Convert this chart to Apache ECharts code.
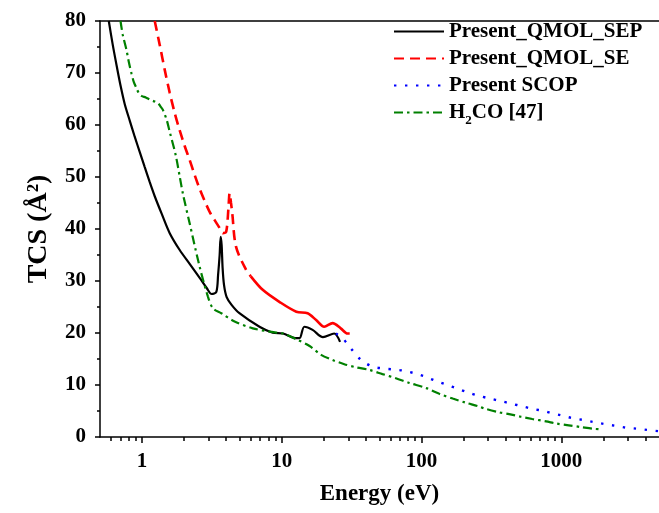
<!DOCTYPE html>
<html>
<head>
<meta charset="utf-8">
<script src="https://cdn.jsdelivr.net/npm/echarts@6/dist/echarts.min.js"></script>
<style>
  html, body { margin: 0; padding: 0; background: #ffffff; }
  #chart { width: 659px; height: 513px; }
</style>
</head>
<body>
<div id="chart"></div>
<script>
// Total cross sections (Å²) against incident electron energy (eV)

// Present_QMOL_SEP
const sepEnergy = [0.578, 0.617, 0.660, 0.705, 0.752, 0.817, 0.887, 0.963, 1.045, 1.135, 1.232, 1.383, 1.577, 1.859, 2.19, 2.584, 2.90, 3.147, 3.4, 3.5, 3.59, 3.65, 3.71, 3.77, 3.86, 4.03, 4.37, 4.97, 6.92, 8.6, 10.2, 12.7, 13.4, 14.5, 16.6, 19.7, 23.7, 26.1];
const sepTcs    = [80, 75.4, 71.2, 67.3, 64.0, 60.8, 57.7, 54.8, 51.9, 49.0, 46.3, 42.9, 39.2, 35.96, 33.3, 30.6, 28.65, 27.5, 27.9, 31.2, 35.0, 38.5, 36.9, 32.5, 29.2, 26.9, 25.4, 23.8, 21.2, 20.06, 19.9, 19.0, 19.0, 21.2, 20.6, 19.2, 19.9, 18.3];

// Present_QMOL_SE (dense low-energy part, then the continuous tail)
const seEnergyLow = [1.232, 1.338, 1.453, 1.577, 1.712, 1.859, 2.018, 2.19, 2.378, 2.584, 2.805, 3.045, 3.306, 3.59, 3.79, 4.0, 4.15, 4.23, 4.33, 4.42, 4.7, 5.56, 6.0];
const seTcsLow    = [80, 75.4, 70.6, 66.2, 62.3, 58.97, 55.96, 53.27, 50.4, 47.7, 45.4, 43.3, 41.7, 40.2, 39.2, 39.5, 44, 46.9, 45, 43, 36.6, 32.1, 30.9];
const seEnergyHigh = [6.0, 7.3, 9.6, 12.7, 15.3, 17.6, 20.1, 23.1, 26.4, 29.5, 30.6];
const seTcsHigh    = [30.9, 28.3, 26.0, 24.1, 23.8, 22.5, 21.2, 21.9, 20.9, 19.9, 19.9];

// Present SCOP
const scopEnergy = [24.4, 27.6, 31.5, 36.6, 43.9, 52.4, 62.6, 74.3, 89, 106, 126, 151, 180, 215, 258, 308, 370, 440, 525, 626, 750, 845, 1000, 1190, 1420, 1690, 2030, 2420, 2900, 3450, 4130, 5000];
const scopTcs    = [19.9, 18.8, 16.9, 14.9, 13.6, 13.2, 13.0, 12.75, 12.25, 11.6, 10.8, 10.06, 9.3, 8.55, 7.9, 7.4, 6.9, 6.4, 5.9, 5.4, 5.0, 4.6, 4.17, 3.65, 3.3, 2.9, 2.5, 2.17, 1.8, 1.6, 1.35, 1.12];

// H2CO [47]
const refEnergy = [0.701, 0.728, 0.774, 0.804, 0.840, 0.872, 0.912, 0.947, 0.990, 1.063, 1.135, 1.232, 1.30, 1.36, 1.41, 1.501, 1.577, 1.741, 1.859, 1.963, 2.19, 2.584, 2.96, 3.215, 3.69, 4.59, 6.2, 8.2, 10.2, 12.7, 15.8, 19.1, 23.1, 28, 34, 42.2, 52.5, 65.5, 81.6, 108, 134, 167, 207, 255, 288, 358, 423, 513, 620, 778, 917, 1130, 1410, 1660, 1900];
const refTcs    = [80, 77.3, 74.4, 72.1, 69.9, 68.3, 67.1, 66.15, 65.6, 65.3, 64.9, 64.5, 64.2, 63.5, 62.9, 60.96, 58.7, 54.2, 50.1, 46.7, 41.1, 32.7, 27.0, 24.75, 23.8, 22.2, 20.9, 20.25, 19.9, 18.8, 17.5, 15.8, 14.8, 14.0, 13.4, 12.9, 12.1, 11.3, 10.4, 9.4, 8.3, 7.4, 6.6, 5.9, 5.4, 4.75, 4.4, 3.9, 3.46, 3.0, 2.6, 2.25, 1.87, 1.6, 1.48];

// Axis ticks
const xMajorTicks = [1, 10, 100, 1000];
const xMinorTicks = [0.6, 0.7, 0.8, 0.9, 2, 3, 4, 5, 6, 7, 8, 9, 20, 30, 40, 50, 60, 70, 80, 90,
                     200, 300, 400, 500, 600, 700, 800, 900, 2000, 3000, 4000];
const yTickValues = [0, 10, 20, 30, 40, 50, 60, 70, 80];

const SERIF = 'Liberation Serif';
const zip = (xs, ys) => xs.map((x, i) => [x, ys[i]]);

const chart = echarts.init(document.getElementById('chart'), null, { renderer: 'canvas' });

const baseLogAxis = {
  type: 'log',
  logBase: 10,
  min: 0.5,
  max: 5000,
  gridIndex: 0,
  splitLine: { show: false },
  minorSplitLine: { show: false }
};

chart.setOption({
  animation: false,
  backgroundColor: '#ffffff',
  grid: { left: 100, right: 0, top: 21, bottom: 76, containLabel: false },
  legend: {
    orient: 'vertical',
    left: 393,
    top: 21,
    padding: 0,
    itemWidth: 50,
    itemHeight: 14,
    itemGap: 6,
    itemStyle: { opacity: 0 },
    data: ['Present_QMOL_SEP', 'Present_QMOL_SE', 'Present SCOP', 'H2CO [47]'],
    formatter: name => name === 'H2CO [47]' ? 'H{sub|2}CO [47]' : name,
    textStyle: {
      fontFamily: SERIF, fontWeight: 'bold', fontSize: 21, color: '#000', lineHeight: 21,
      rich: {
        sub: { fontFamily: SERIF, fontWeight: 'bold', fontSize: 13, lineHeight: 13, verticalAlign: 'bottom', padding: [0, 0, -4, 0] }
      }
    }
  },
  xAxis: [
    Object.assign({}, baseLogAxis, {
      position: 'bottom',
      name: 'Energy (eV)',
      nameLocation: 'middle',
      nameGap: 46,
      nameTextStyle: { fontFamily: SERIF, fontWeight: 'bold', fontSize: 23, color: '#000' },
      axisLine: { show: true, lineStyle: { color: '#000', width: 1.5 } },
      axisTick: { show: true, inside: false, length: 6, customValues: xMajorTicks, lineStyle: { color: '#000', width: 1.5 } },
      axisLabel: {
        show: true, customValues: xMajorTicks, margin: 14,
        formatter: v => String(Math.round(v)),
        fontFamily: SERIF, fontWeight: 'bold', fontSize: 21, color: '#000'
      }
    }),
    Object.assign({}, baseLogAxis, {
      position: 'bottom',
      axisLine: { show: false },
      axisTick: { show: true, inside: false, length: 4, customValues: xMinorTicks, lineStyle: { color: '#000', width: 1.5 } },
      axisLabel: { show: false }
    }),
    Object.assign({}, baseLogAxis, {
      position: 'top',
      axisLine: { show: true, lineStyle: { color: '#000', width: 1.5 } },
      axisTick: { show: false },
      axisLabel: { show: false }
    })
  ],
  yAxis: {
    type: 'value',
    min: 0,
    max: 80,
    interval: 10,
    position: 'left',
    name: 'TCS (Å²)',
    nameLocation: 'middle',
    nameRotate: 90,
    nameGap: 47,
    nameTextStyle: { fontFamily: SERIF, fontWeight: 'bold', fontSize: 28, color: '#000' },
    axisLine: { show: true, lineStyle: { color: '#000', width: 1.5 } },
    axisTick: { show: true, inside: false, length: 5, lineStyle: { color: '#000', width: 1.5 } },
    minorTick: { show: true, splitNumber: 2, length: 3, lineStyle: { color: '#000', width: 1.5 } },
    splitLine: { show: false },
    axisLabel: {
      margin: 14,
      customValues: yTickValues,
      fontFamily: SERIF, fontWeight: 'bold', fontSize: 21, color: '#000'
    }
  },
  series: [
    {
      name: 'Present_QMOL_SEP', type: 'line', xAxisIndex: 0,
      data: zip(sepEnergy, sepTcs), showSymbol: false, symbol: 'none', smooth: 0.3,
      lineStyle: { color: '#000000', width: 2.2, type: 'solid' }, itemStyle: { color: '#000000' }
    },
    {
      name: 'Present_QMOL_SE', type: 'line', xAxisIndex: 0,
      data: zip(seEnergyLow, seTcsLow), showSymbol: false, symbol: 'none', smooth: 0.3,
      lineStyle: { color: '#ff0000', width: 2.6, type: [10, 6] }, itemStyle: { color: '#ff0000' }
    },
    {
      name: 'Present_QMOL_SE', type: 'line', xAxisIndex: 0,
      data: zip(seEnergyHigh, seTcsHigh), showSymbol: false, symbol: 'none', smooth: 0.3,
      lineStyle: { color: '#ff0000', width: 2.6, type: 'solid' }, itemStyle: { color: '#ff0000' }
    },
    {
      name: 'Present SCOP', type: 'line', xAxisIndex: 0,
      data: zip(scopEnergy, scopTcs), showSymbol: false, symbol: 'none', smooth: 0.3,
      lineStyle: { color: '#0000ff', width: 2.4, type: [2.4, 8.6], cap: 'butt' }, itemStyle: { color: '#0000ff' }
    },
    {
      name: 'H2CO [47]', type: 'line', xAxisIndex: 0,
      data: zip(refEnergy, refTcs), showSymbol: false, symbol: 'none', smooth: 0.3,
      lineStyle: { color: '#008000', width: 2.2, type: [9, 4, 2.5, 4] }, itemStyle: { color: '#008000' }
    }
  ]
});
</script>
</body>
</html>
